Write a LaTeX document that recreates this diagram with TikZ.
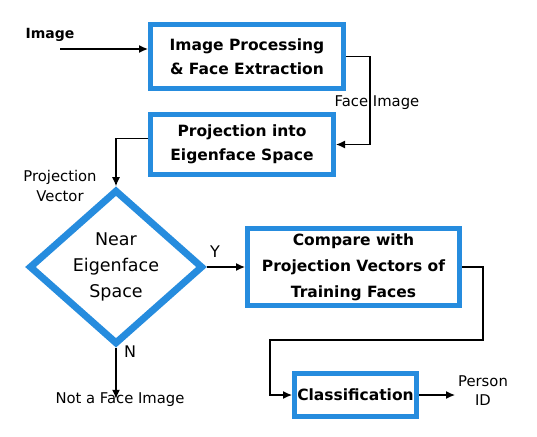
\documentclass[tikz,border=0pt]{standalone}
\usepackage{fontspec}
\setmainfont{DejaVu Sans}
\usetikzlibrary{shapes.geometric,arrows.meta}
\definecolor{boxblue}{RGB}{38,140,222}
\tikzset{
  blk/.style={draw=boxblue,line width=5pt,fill=white,align=center,inner sep=0pt,
    font=\fontsize{15.5}{24}\selectfont\bfseries},
  arr/.style={-{Latex[length=9pt,width=8pt]},line width=1.3pt},
  lbl/.style={align=center,inner sep=0pt,font=\fontsize{14.8}{20}\selectfont}
}
\begin{document}
\begin{tikzpicture}[x=1pt,y=-1pt]
    \useasboundingbox (0,0) rectangle (537,436);
    \node[blk,minimum width=193,minimum height=64] (proc) at (247,56.5) {Image Processing\\\& Face Extraction};
    \node[blk,minimum width=183,minimum height=60] (proj) at (242,144.5) {Projection into\\Eigenface Space};
    \node[draw=boxblue,line width=7pt,fill=white,shape=diamond,align=center,inner sep=0pt,
      minimum width=174,minimum height=110,font=\fontsize{17.5}{26}\selectfont] (near) at (116,267) {Near\\Eigenface\\Space};
    \node[blk,minimum width=212,minimum height=77,font=\fontsize{15.5}{26}\selectfont\bfseries] (comp) at (353.5,267) {Compare with\\Projection Vectors of\\Training Faces};
    \node[blk,minimum width=122,minimum height=43] (clas) at (355.5,395) {Classification};
    % labels
    \node[lbl,font=\fontsize{14}{20}\selectfont\bfseries] (imglbl) at (50,35) {Image};
    \node[lbl] (facelbl) at (377,103) {Face Image};
    \node[lbl] (veclbl) at (60,186) {Projection\\Vector};
    \node[lbl,font=\fontsize{16}{20}\selectfont] (ylbl) at (215,252) {Y};
    \node[lbl,font=\fontsize{16}{20}\selectfont] (nlbl) at (130,352) {N};
    \node[lbl] (notlbl) at (120,400) {Not a Face Image};
    \node[lbl,font=\fontsize{14.8}{19}\selectfont] (pid) at (483,391) {Person\\ID};
    \coordinate (imgin) at (60,49);
    % connectors
    \draw[arr] (imgin) -- (imgin -| proc.west);
    \draw[arr] (proc.east) -- ++(24,0) |- (proj.east);
    \draw[arr] ([yshift=6pt]proj.west) -| (near.north);
    \draw[arr] (near.east) -- (comp.west);
    \draw[arr] (near.south) -- ++(0,51);
    \draw[arr] (comp.east) -- ++(21,0) -- ++(0,73) -- ++(-213,0) |- (clas.west);
    \draw[arr] (clas.east) -- ++(36,0);
\end{tikzpicture}
\end{document}
